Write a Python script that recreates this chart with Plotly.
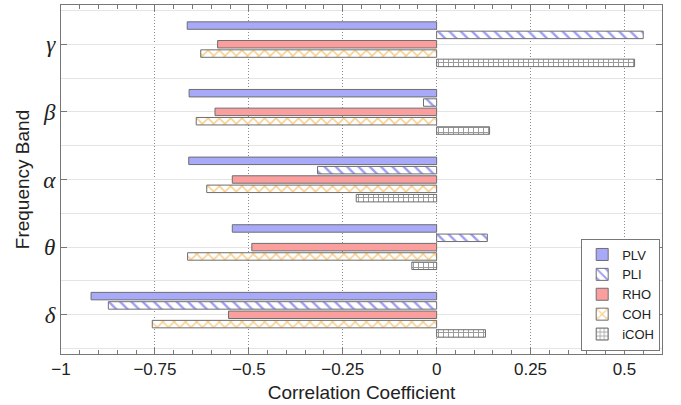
import plotly.graph_objects as go

bands = ["δ", "θ", "α", "β", "γ"]
band_pos = [0, 1, 2, 3, 4]
series_names = ["PLV", "PLI", "RHO", "COH", "iCOH"]
plv = [-0.92, -0.544, -0.66, -0.659, -0.664]
pli = [-0.874, 0.135, -0.317, -0.035, 0.55]
rho = [-0.554, -0.492, -0.544, -0.59, -0.583]
coh = [-0.757, -0.663, -0.612, -0.64, -0.628]
icoh = [0.13, -0.066, -0.214, 0.141, 0.527]

x_tickvals = [-1, -0.75, -0.5, -0.25, 0, 0.25, 0.5]
x_ticktext = ["−1", "−0.75", "−0.5", "−0.25", "0", "0.25", "0.5"]

outline = dict(color="#6e6e6e", width=1)
styles = {
    "PLV": dict(color="#a9a9fa", line=outline),
    "PLI": dict(color="white", line=outline,
                pattern=dict(shape="\\", fgcolor="#3c3ce6", bgcolor="white", size=8, solidity=0.3)),
    "RHO": dict(color="#fa9e9e", line=outline),
    "COH": dict(color="white", line=outline,
                pattern=dict(shape="x", fgcolor="#f0a01c", bgcolor="white", size=8, solidity=0.35)),
    "iCOH": dict(color="white", line=outline,
                 pattern=dict(shape="+", fgcolor="#333333", bgcolor="white", size=5, solidity=0.35)),
}
data = {"PLV": plv, "PLI": pli, "RHO": rho, "COH": coh, "iCOH": icoh}

fig = go.Figure()
for name in reversed(series_names):
    fig.add_trace(go.Bar(y=band_pos, x=data[name], orientation="h", name=name,
                         marker=styles[name]))

font_family = "Liberation Sans, Arial, sans-serif"
fig.update_layout(
    width=681, height=405,
    margin=dict(l=61, r=19, t=5, b=51),
    paper_bgcolor="white", plot_bgcolor="white",
    barmode="group", bargap=0.31, bargroupgap=0.2,
    font=dict(family=font_family, color="#222"),
    legend=dict(x=0.997, y=0.01, xanchor="right", yanchor="bottom",
                traceorder="reversed", bordercolor="#777", borderwidth=1,
                bgcolor="white", font=dict(size=13, family=font_family),
                itemwidth=30, tracegroupgap=0),
    showlegend=True,
)
fig.update_xaxes(
    range=[-1, 0.6], tickvals=x_tickvals, ticktext=x_ticktext, automargin=False,
    tickfont=dict(size=17), showline=True, linecolor="#777", linewidth=1, mirror="allticks",
    ticks="inside", ticklen=6, tickcolor="#777",
    showgrid=True, gridcolor="#8a8a8a", griddash="1px,2px", gridwidth=1,
    minor=dict(dtick=0.05, tick0=0, ticks="inside", ticklen=4, tickcolor="#777", showgrid=False),
    zeroline=False,
    title=dict(text="Correlation Coefficient", font=dict(size=19), standoff=7),
)
fig.update_yaxes(
    range=[-0.58, 4.58], tickvals=band_pos, ticktext=bands, automargin=False,
    tickfont=dict(size=23, family="Liberation Serif, DejaVu Serif, serif", style="italic"),
    showline=True, linecolor="#777", linewidth=1, mirror="allticks",
    ticks="inside", ticklen=6, tickcolor="#777",
    showgrid=True, gridcolor="#e4e4e4", gridwidth=1,
    minor=dict(dtick=0.5, tick0=0.5, showgrid=True, gridcolor="#e4e4e4", ticks=""),
    zeroline=False,
    title=dict(text="Frequency Band", font=dict(size=19), standoff=8),
)
fig.write_html("out.html", config={"displayModeBar": False},
               post_script="document.body.style.margin='0';")
